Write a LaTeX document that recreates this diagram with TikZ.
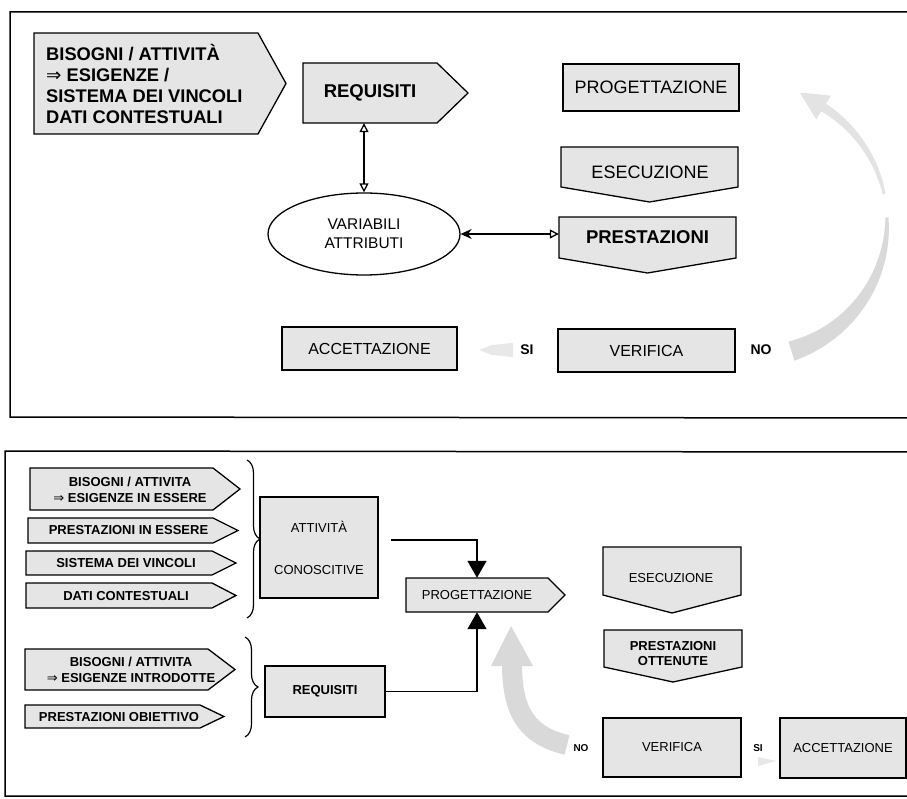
\documentclass[tikz,border=0pt]{standalone}
\usepackage{fontspec}
\setmainfont{Liberation Sans}
\newfontfamily\symf{DejaVu Sans}
\usetikzlibrary{arrows.meta,decorations.pathreplacing,shapes.geometric}
\newcommand\rpent[5]{\path[shp] (#1,#2) -- (#5,#2) -- (#3,{(#2+#4)/2}) -- (#5,#4) -- (#1,#4) -- cycle;}
\newcommand\dpent[5]{\path[shp] (#1,#2) -- (#3,#2) -- (#3,#4) -- ({(#1+#3)/2},#5) -- (#1,#4) -- cycle;}
\newcommand\darr{{\symf\mdseries ⇒}}
\begin{document}
\begin{tikzpicture}[x=1pt,y=-1pt,
  shp/.style={draw=black, line width=1.3pt, fill=gray!20, line join=miter},
  boxn/.style={shp, inner sep=0pt, align=center},
  txt/.style={inner sep=0pt, align=center},
  frm/.style={line width=1.5pt},
  fA/.style={font=\fontsize{18}{21}\selectfont},
  fAb/.style={font=\bfseries\fontsize{18.5}{21}\selectfont},
  fB/.style={font=\fontsize{16}{19}\selectfont},
  fE/.style={font=\fontsize{15.5}{19}\selectfont},
  fC/.style={font=\fontsize{13}{16}\selectfont},
  fCb/.style={font=\bfseries\fontsize{13}{16}\selectfont},
  fSI/.style={font=\bfseries\fontsize{14}{16}\selectfont},
  fsi/.style={font=\bfseries\fontsize{10}{12}\selectfont},
  conn/.style={line width=1.4pt, -{Triangle[length=17pt,width=19pt]}},
  brc/.style={line width=1.2pt, decorate, decoration={brace, amplitude=13pt}},
  stip/.style={fill=gray!30, draw=none},
  faint/.style={fill=gray!18, draw=none}]
\useasboundingbox (0,0) rectangle (907,799);
\fill[white] (0,0) rectangle (907,799);
% frames
\draw[frm] (910,12) -- (10,12) -- (10,417) -- (910,418);
\draw[frm] (910,452) -- (5,451) -- (5,796) -- (910,796);

% ---------------- top panel ----------------
\rpent{34}{33}{286}{134}{258}
\node[txt, anchor=west, align=left, font=\bfseries\fontsize{18.3}{20.7}\selectfont] (bis) at (46,84)
  {BISOGNI / ATTIVITÀ\\\darr{} ESIGENZE /\\SISTEMA DEI VINCOLI\\DATI CONTESTUALI};

\rpent{303}{63}{468}{123}{437}
\node[txt, fAb, minimum width=134pt, minimum height=60pt] (reqT) at (370,93) {REQUISITI};

\node[boxn, fA, minimum width=176pt, minimum height=47pt] (progT) at (651,87.5) {PROGETTAZIONE};

\dpent{561}{147}{738}{187}{202}
\node[txt, fA] (eseT) at (650,172) {ESECUZIONE};

\dpent{559}{217}{736}{258}{273}
\node[txt, fAb, minimum width=177pt, minimum height=41pt] (presT) at (647.5,237.5) {PRESTAZIONI};

\node[ellipse, draw, line width=1.3pt, fill=white, minimum width=192pt, minimum height=82pt,
  inner sep=0pt, align=center, fE] (ell) at (364,234) {VARIABILI\\ATTRIBUTI};

\draw[line width=1.3pt, {Triangle[open,length=9pt,width=9pt]}-{Triangle[open,length=9pt,width=9pt]}]
  (ell.north |- reqT.south) -- (ell.north);
\draw[line width=1.3pt, {Stealth[length=11pt,width=10pt]}-{Triangle[open,length=9pt,width=9pt]}]
  (ell.east) -- (ell.east -| presT.west);

\node[boxn, fB, minimum width=175pt, minimum height=43pt] (accT) at (369.5,348.5) {ACCETTAZIONE};
\node[boxn, fB, minimum width=177pt, minimum height=43pt] (verT) at (646.5,350.5) {VERIFICA};
\node[txt, fSI] (siT) at (527,350) {SI};
\node[txt, fSI] (noT) at (761,350) {NO};
\fill[faint] (513,343) -- (492,345) -- (479,350) -- (492,355) -- (513,357) -- cycle;

% big stippled return arc (top)
\begin{scope}[shift={(752,222)}]
  \fill[stip] plot[domain=73:-2, samples=40, variable=\t] (\t:{135+0.5*(3+17*(\t+2)/75)})
    -- plot[domain=-2:73, samples=40, variable=\t] (\t:{135-0.5*(3+17*(\t+2)/75)}) -- cycle;
  \fill[fill=gray!22] plot[domain=-12:-58, samples=30, variable=\t] (\t:{135+0.5*(3+6*(-\t-12)/46)})
    -- (-58:149) -- (-69.7:138) -- (-58:121)
    -- plot[domain=-58:-12, samples=30, variable=\t] (\t:{135-0.5*(3+6*(-\t-12)/46)}) -- cycle;
\end{scope}

% ---------------- bottom panel ----------------
\rpent{30}{468}{240}{510}{213}
\node[txt, fCb] (b1) at (130,490) {BISOGNI / ATTIVITA\\\darr{} ESIGENZE IN ESSERE};
\rpent{28}{518}{238}{543}{213}
\node[txt, fCb] (b2) at (128.5,530.5) {PRESTAZIONI IN ESSERE};
\rpent{26}{551}{236}{575}{212}
\node[txt, fCb] (b3) at (126,563) {SISTEMA DEI VINCOLI};
\rpent{26}{583}{236}{608}{212}
\node[txt, fCb] (b4) at (126,596) {DATI CONTESTUALI};

\coordinate (br1a) at (247,460);
\coordinate (br1b) at (247,618);
\draw[brc] (br1a) -- (br1b);

\node[boxn, fC, minimum width=118pt, minimum height=101pt] (att) at (319,547.5) {ATTIVITÀ\\[26pt]CONOSCITIVE};

\rpent{25}{649}{235}{690}{208}
\node[txt, fCb] (b5) at (131,670) {BISOGNI / ATTIVITA\\\darr{} ESIGENZE INTRODOTTE};
\rpent{25}{705}{224}{728}{200}
\node[txt, fCb] (b6) at (119,717) {PRESTAZIONI OBIETTIVO};

\coordinate (br2a) at (245,637);
\coordinate (br2b) at (245,737);
\draw[brc] (br2a) -- (br2b);

\node[boxn, fCb, minimum width=120pt, minimum height=51pt] (reqB) at (325,691.5) {REQUISITI};

\rpent{406}{578}{565}{612}{548}
\node[txt, fC, minimum width=142pt, minimum height=34pt] (progB) at (477,595) {PROGETTAZIONE};

\draw[conn] ([shift={(12,-7.5)}]att.east) -| (progB.north);
\draw[conn] (reqB.east) -| (progB.south);

\dpent{603}{547}{741}{595}{613}
\node[txt, fC] (eseB) at (671,578) {ESECUZIONE};
\dpent{604}{630}{742}{667}{682}
\node[txt, font=\bfseries\fontsize{13}{15}\selectfont] (presB) at (673,653.5) {PRESTAZIONI\\OTTENUTE};

\node[boxn, fC, minimum width=138pt, minimum height=59pt] (verB) at (672,747.5) {VERIFICA};
\node[boxn, fC, minimum width=126pt, minimum height=60pt] (accB) at (843,748) {ACCETTAZIONE};
\node[txt, fsi] (siB) at (758,748) {SI};
\node[txt, fsi] (noB) at (581,748) {NO};
\fill[faint] (758,757) -- (776,761) -- (758,766) -- cycle;

% stippled return arrow (bottom)
\draw[gray!30, line width=20pt] (567,745) .. controls (530,736) and (512,716) .. (512,664);
\fill[stip] (491,666) -- (533,666) -- (511,626) -- cycle;
\end{tikzpicture}
\end{document}
